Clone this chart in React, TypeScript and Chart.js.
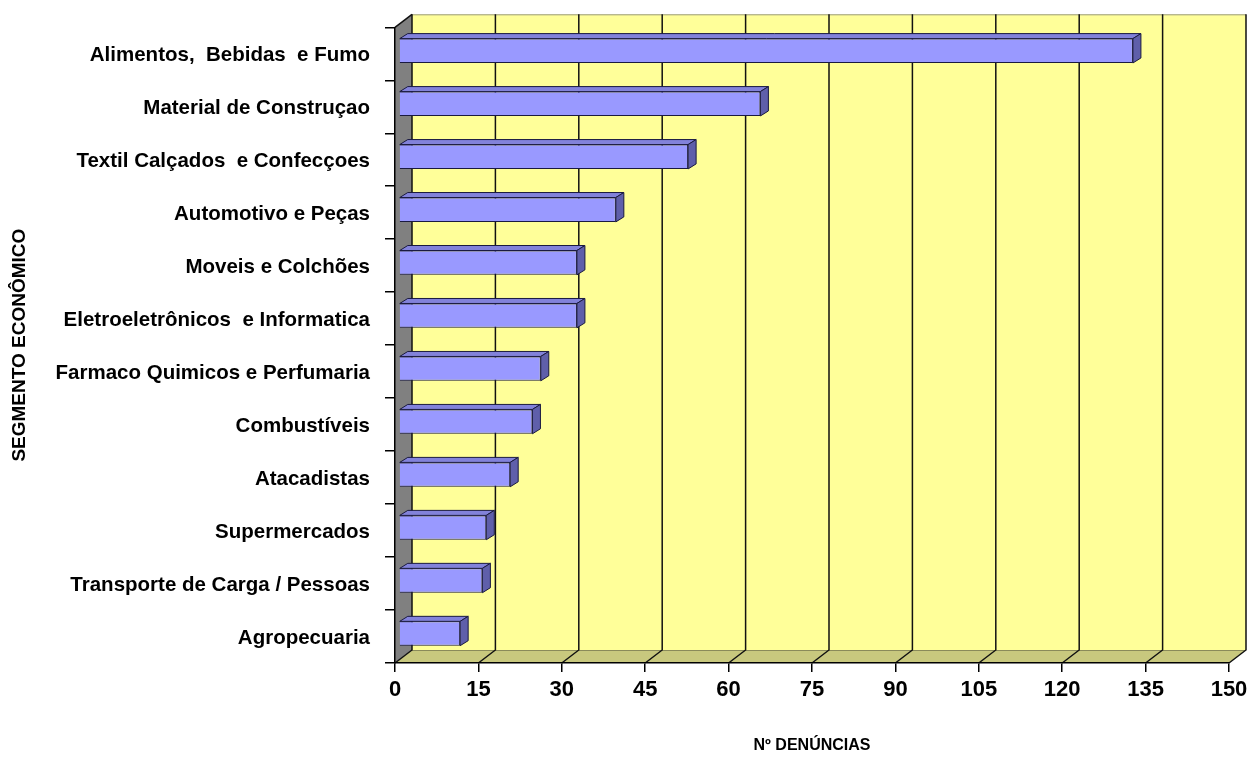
import { useEffect, useRef } from "react";
import { Chart, registerables } from "chart.js";

Chart.register(...registerables);

const categories = [
  "Alimentos,  Bebidas  e Fumo",
  "Material de Construçao",
  "Textil Calçados  e Confecçoes",
  "Automotivo e Peças",
  "Moveis e Colchões",
  "Eletroeletrônicos  e Informatica",
  "Farmaco Quimicos e Perfumaria",
  "Combustíveis",
  "Atacadistas",
  "Supermercados",
  "Transporte de Carga / Pessoas",
  "Agropecuaria",
];
const denuncias = [132, 65, 52, 39, 32, 32, 25.5, 24, 20, 15.7, 15, 11];
const xTickValues = [0, 15, 30, 45, 60, 75, 90, 105, 120, 135, 150];
const xTitle = "Nº DENÚNCIAS";
const yTitle = "SEGMENTO ECONÔMICO";

const FONT = "'Liberation Sans', Arial, sans-serif";
const WALL_DX = 17;
const WALL_DY = -13;
const BAR_SHIFT_X = 4;
const BAR_SHIFT_Y = -3;
const BAR_DX = 8;
const BAR_DY = -5;

const threeD = {
  id: "threeD",
  beforeDraw(chart: any) {
    const { ctx, chartArea } = chart;
    const { left, right, top, bottom } = chartArea;
    const xs = chart.scales.x;
    ctx.save();
    // back wall
    ctx.fillStyle = "#FFFF99";
    ctx.fillRect(left + WALL_DX, top + WALL_DY, right - left, bottom - top);
    ctx.strokeStyle = "#9a9a80";
    ctx.lineWidth = 1;
    ctx.beginPath();
    ctx.moveTo(left + WALL_DX, top + WALL_DY + 0.5);
    ctx.lineTo(right + WALL_DX, top + WALL_DY + 0.5);
    ctx.stroke();
    // left wall
    ctx.fillStyle = "#808080";
    ctx.beginPath();
    ctx.moveTo(left, top);
    ctx.lineTo(left + WALL_DX, top + WALL_DY);
    ctx.lineTo(left + WALL_DX, bottom + WALL_DY);
    ctx.lineTo(left, bottom);
    ctx.closePath();
    ctx.fill();
    // floor
    ctx.fillStyle = "#C8C87E";
    ctx.beginPath();
    ctx.moveTo(left, bottom);
    ctx.lineTo(left + WALL_DX, bottom + WALL_DY);
    ctx.lineTo(right + WALL_DX, bottom + WALL_DY);
    ctx.lineTo(right, bottom);
    ctx.closePath();
    ctx.fill();
    // floor back edge
    ctx.strokeStyle = "#8a8a5a";
    ctx.beginPath();
    ctx.moveTo(left + WALL_DX, bottom + WALL_DY + 0.5);
    ctx.lineTo(right + WALL_DX, bottom + WALL_DY + 0.5);
    ctx.stroke();
    // grid lines on wall + floor
    ctx.strokeStyle = "#111";
    ctx.lineWidth = 1.5;
    for (const v of xTickValues) {
      const px = xs.getPixelForValue(v);
      ctx.beginPath();
      ctx.moveTo(px + WALL_DX, top + WALL_DY);
      ctx.lineTo(px + WALL_DX, bottom + WALL_DY);
      ctx.lineTo(px, bottom);
      ctx.stroke();
    }
    // top-left diagonal
    ctx.beginPath();
    ctx.moveTo(left, top);
    ctx.lineTo(left + WALL_DX, top + WALL_DY);
    ctx.stroke();
    ctx.restore();
  },
  beforeDatasetsDraw(chart: any) {
    chart.ctx.save();
    chart.ctx.translate(BAR_SHIFT_X, BAR_SHIFT_Y);
  },
  afterDatasetsDraw(chart: any) {
    const { ctx } = chart;
    const meta = chart.getDatasetMeta(0);
    ctx.lineWidth = 1;
    ctx.strokeStyle = "#1a1a40";
    ctx.lineJoin = "round";
    meta.data.forEach((bar: any) => {
      const p = bar.getProps(["x", "y", "base", "height"], true);
      const x0 = p.base;
      const x1 = p.x;
      const t = p.y - p.height / 2;
      const b = p.y + p.height / 2;
      // top face
      ctx.fillStyle = "#8282DA";
      ctx.beginPath();
      ctx.moveTo(x0, t);
      ctx.lineTo(x0 + BAR_DX, t + BAR_DY);
      ctx.lineTo(x1 + BAR_DX, t + BAR_DY);
      ctx.lineTo(x1, t);
      ctx.closePath();
      ctx.fill();
      ctx.stroke();
      // side face
      ctx.fillStyle = "#5F5FAA";
      ctx.beginPath();
      ctx.moveTo(x1, t);
      ctx.lineTo(x1 + BAR_DX, t + BAR_DY);
      ctx.lineTo(x1 + BAR_DX, b + BAR_DY);
      ctx.lineTo(x1, b);
      ctx.closePath();
      ctx.fill();
      ctx.stroke();
    });
    ctx.restore();
  },
};

export default function App() {
  const ref = useRef<HTMLCanvasElement | null>(null);
  useEffect(() => {
    if (!ref.current) return;
    const chart = new Chart(ref.current, {
      type: "bar",
      data: {
        labels: categories,
        datasets: [
          {
            data: denuncias,
            backgroundColor: "#9999FF",
            borderColor: "#1a1a40",
            borderWidth: 1,
            categoryPercentage: 1,
            barPercentage: 0.46,
          },
        ],
      },
      options: {
        indexAxis: "y",
        animation: false,
        responsive: false,
        events: [],
        layout: { padding: { left: 0, right: 24, top: 27, bottom: 0 } },
        plugins: { legend: { display: false }, tooltip: { enabled: false } },
        scales: {
          x: {
            min: 0,
            max: 150,
            afterBuildTicks: (scale: any) => {
              scale.ticks = xTickValues.map((v) => ({ value: v }));
            },
            afterFit: (scale: any) => {
              scale.height = 106;
            },
            grid: {
              display: true,
              drawOnChartArea: false,
              drawTicks: true,
              tickLength: 9,
              color: "#000",
              lineWidth: 1.5,
            },
            border: { display: true, color: "#000", width: 1.5 },
            ticks: {
              color: "#000",
              padding: 5,
              maxRotation: 0,
              font: { family: FONT, size: 22, weight: "bold" },
            },
            title: {
              display: true,
              text: xTitle,
              color: "#000",
              padding: { top: 0, bottom: 14 },
              font: { family: FONT, size: 16, weight: "bold" },
            },
          },
          y: {
            afterFit: (scale: any) => {
              scale.width = 395;
            },
            grid: {
              display: true,
              drawOnChartArea: false,
              drawTicks: true,
              tickLength: 10,
              color: "#000",
              lineWidth: 1.5,
              offset: true,
            },
            border: { display: true, color: "#000", width: 1.5 },
            ticks: {
              color: "#000",
              padding: 15,
              labelOffset: 2,
              autoSkip: false,
              font: { family: FONT, size: 20.5, weight: "bold" },
            },
            title: {
              display: true,
              text: yTitle,
              color: "#000",
              padding: { top: 8, bottom: 0 },
              font: { family: FONT, size: 19, weight: "bold" },
            },
          },
        },
      },
      plugins: [threeD],
    });
    return () => chart.destroy();
  }, []);
  return (
    <div
      style={{
        position: "fixed",
        left: 0,
        top: 0,
        width: 1253,
        height: 769,
        background: "#fff",
      }}
    >
      <canvas ref={ref} width={1253} height={769} />
    </div>
  );
}
